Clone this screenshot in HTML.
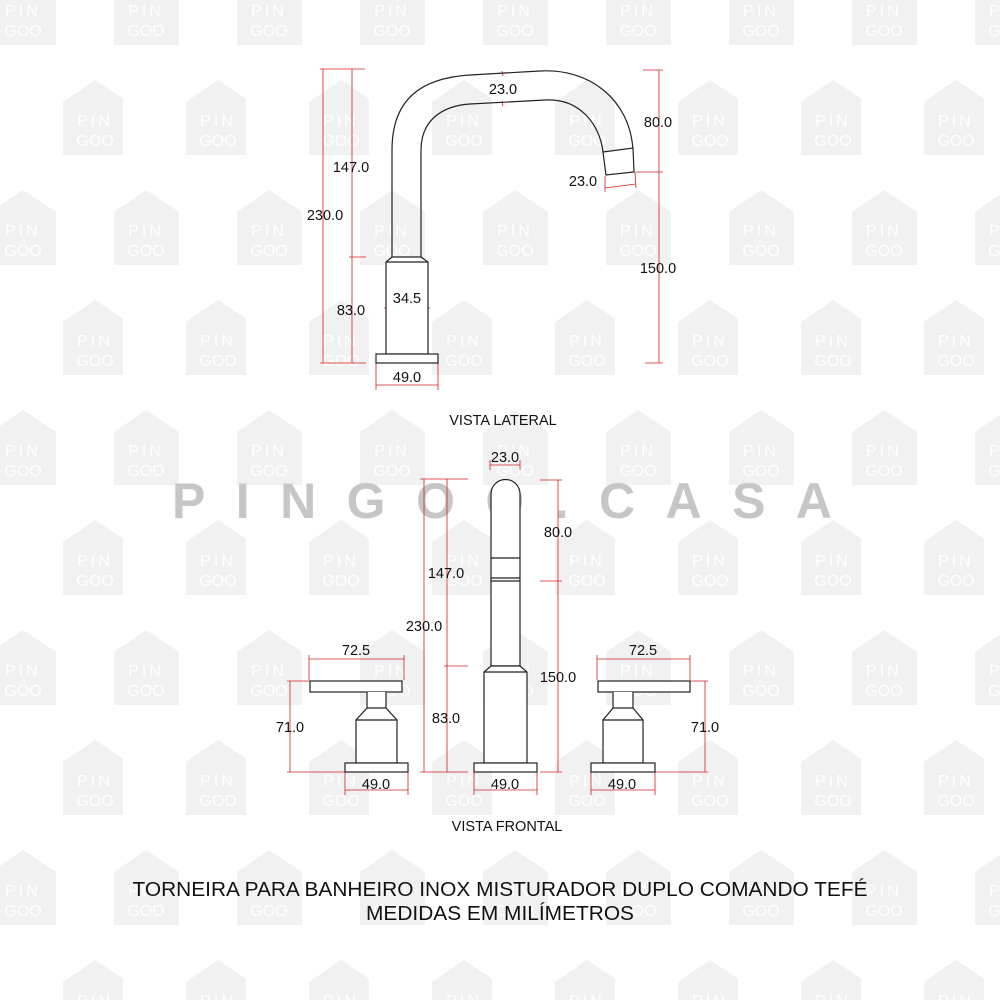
<!DOCTYPE html>
<html><head><meta charset="utf-8"><style>
html,body{margin:0;padding:0;background:#fff;}
svg{display:block;font-family:"Liberation Sans",Arial,sans-serif;}
</style></head><body>
<svg width="1000" height="1000" viewBox="0 0 1000 1000" xmlns="http://www.w3.org/2000/svg">
<defs>
<g id="h">
<path d="M32 0 L65 22 L65 75 L0 75 L0 22 Z" fill="#f1f1f1"/>
<text x="32" y="46" font-size="16" fill="#fff" text-anchor="middle" letter-spacing="3">PIN</text>
<text x="32" y="66" font-size="16" fill="#fff" text-anchor="middle">GOO</text>
</g>
<pattern id="wm" x="0" y="0" width="123" height="220" patternUnits="userSpaceOnUse">
<use href="#h" x="-9" y="-30"/><use href="#h" x="114" y="-30"/>
<use href="#h" x="-9" y="190"/><use href="#h" x="114" y="190"/>
<use href="#h" x="63" y="80"/>
</pattern>
</defs>
<rect width="1000" height="1000" fill="url(#wm)"/>
<text x="172" y="518" font-size="50" font-weight="bold" fill="#c6c6c6" textLength="660" lengthAdjust="spacing">PINGOO.CASA</text>

<g stroke="#d02020" stroke-width="0.8" fill="none">
<line x1="323" y1="69" x2="323" y2="363"/><line x1="352" y1="69" x2="352" y2="363"/>
<line x1="320" y1="69" x2="365" y2="69"/><line x1="349" y1="257" x2="366" y2="257"/><line x1="320" y1="363" x2="366" y2="363"/>
<line x1="384" y1="308" x2="430" y2="308"/>
<line x1="376" y1="385" x2="438" y2="385"/><line x1="376" y1="363" x2="376" y2="390"/><line x1="438" y1="363" x2="438" y2="390"/>
<line x1="659" y1="70" x2="659" y2="363"/><line x1="643" y1="70" x2="663" y2="70"/><line x1="636" y1="172" x2="663" y2="172"/><line x1="645" y1="363" x2="663" y2="363"/>
<line x1="605" y1="188" x2="636" y2="184"/><line x1="605" y1="176" x2="605" y2="192"/><line x1="635" y1="172" x2="636" y2="188"/>
<line x1="502" y1="71" x2="503" y2="76"/><line x1="502" y1="101" x2="503" y2="106"/>
<line x1="424" y1="479" x2="424" y2="772"/><line x1="447" y1="479" x2="447" y2="772"/>
<line x1="420" y1="479" x2="468" y2="479"/><line x1="444" y1="666" x2="468" y2="666"/><line x1="420" y1="772" x2="468" y2="772"/>
<line x1="558" y1="480" x2="558" y2="772"/><line x1="540" y1="480" x2="562" y2="480"/><line x1="540" y1="581" x2="562" y2="581"/><line x1="540" y1="772" x2="562" y2="772"/>
<line x1="490" y1="465" x2="520" y2="465"/><line x1="490" y1="460" x2="490" y2="470"/><line x1="520" y1="460" x2="520" y2="470"/>
<line x1="309" y1="659" x2="404" y2="659"/><line x1="309" y1="655" x2="309" y2="680"/><line x1="404" y1="655" x2="404" y2="680"/>
<line x1="290" y1="681" x2="290" y2="772"/><line x1="287" y1="681" x2="310" y2="681"/><line x1="287" y1="772" x2="345" y2="772"/>
<line x1="345" y1="790" x2="408" y2="790"/><line x1="345" y1="772" x2="345" y2="795"/><line x1="408" y1="772" x2="408" y2="795"/>
<line x1="474" y1="790" x2="537" y2="790"/><line x1="474" y1="772" x2="474" y2="795"/><line x1="537" y1="772" x2="537" y2="795"/>
<line x1="597" y1="659" x2="690" y2="659"/><line x1="597" y1="655" x2="597" y2="680"/><line x1="690" y1="655" x2="690" y2="680"/>
<line x1="705" y1="681" x2="705" y2="772"/><line x1="690" y1="681" x2="708" y2="681"/><line x1="655" y1="772" x2="708" y2="772"/>
<line x1="591" y1="790" x2="655" y2="790"/><line x1="591" y1="772" x2="591" y2="795"/><line x1="655" y1="772" x2="655" y2="795"/>
</g>

<g stroke="#222" stroke-width="1.2" fill="#fff">
<path d="M392 257 L392 150 C392 100 420 78 470 75 L540 71 C590 68 630 100 633 150" fill="none"/>
<path d="M421 257 L421 150 C421 122 440 106 470 104 L545 100 C580 98 600 125 603 152" fill="none"/>
<path d="M603 152 L633 148 L634 172 L606 175 Z"/>
<path d="M392 257 L386 262 L386 354 L428 354 L428 262 L421 257 Z"/>
<line x1="386" y1="262" x2="428" y2="262"/>
<rect x="376" y="354" width="62" height="9"/>
<path d="M491 666 L491 494 A14.5 14.5 0 0 1 520 494 L520 666 Z"/>
<line x1="491" y1="558" x2="520" y2="558"/><line x1="491" y1="578" x2="520" y2="578"/><line x1="491" y1="581" x2="520" y2="581"/>
<path d="M491 666 L484 672 L484 763 L527 763 L527 672 L520 666 Z"/>
<line x1="484" y1="672" x2="527" y2="672"/>
<rect x="474" y="763" width="63" height="9"/>
<rect x="310" y="681" width="92" height="11"/>
<path d="M367 692 L367 708 L356 720 L356 763 L397 763 L397 720 L386 708 L386 692"/>
<line x1="367" y1="708" x2="386" y2="708"/><line x1="356" y1="720" x2="397" y2="720"/>
<rect x="345" y="763" width="63" height="9"/>
<rect x="598" y="681" width="92" height="11"/>
<path d="M613 692 L613 708 L603 720 L603 763 L643 763 L643 720 L633 708 L633 692"/>
<line x1="613" y1="708" x2="633" y2="708"/><line x1="603" y1="720" x2="643" y2="720"/>
<rect x="591" y="763" width="64" height="9"/>
</g>

<g font-size="14.5" fill="#111" text-anchor="middle">
<text x="503" y="94">23.0</text>
<text x="351" y="172">147.0</text>
<text x="325" y="220">230.0</text>
<text x="351" y="315">83.0</text>
<text x="407" y="303">34.5</text>
<text x="407" y="382">49.0</text>
<text x="658" y="127">80.0</text>
<text x="658" y="273">150.0</text>
<text x="583" y="186">23.0</text>
<text x="503" y="425">VISTA LATERAL</text>
<text x="505" y="462">23.0</text>
<text x="558" y="537">80.0</text>
<text x="446" y="578">147.0</text>
<text x="424" y="631">230.0</text>
<text x="558" y="682">150.0</text>
<text x="446" y="723">83.0</text>
<text x="356" y="655">72.5</text>
<text x="643" y="655">72.5</text>
<text x="290" y="732">71.0</text>
<text x="705" y="732">71.0</text>
<text x="376" y="789">49.0</text>
<text x="505" y="789">49.0</text>
<text x="622" y="789">49.0</text>
<text x="507" y="831">VISTA FRONTAL</text>
</g>
<g font-size="20" fill="#111" text-anchor="middle">
<text x="500" y="896" textLength="735" lengthAdjust="spacingAndGlyphs">TORNEIRA PARA BANHEIRO INOX MISTURADOR DUPLO COMANDO TEFÉ</text>
<text x="500" y="920" textLength="268" lengthAdjust="spacingAndGlyphs">MEDIDAS EM MILÍMETROS</text>
</g>
</svg>
</body></html>
